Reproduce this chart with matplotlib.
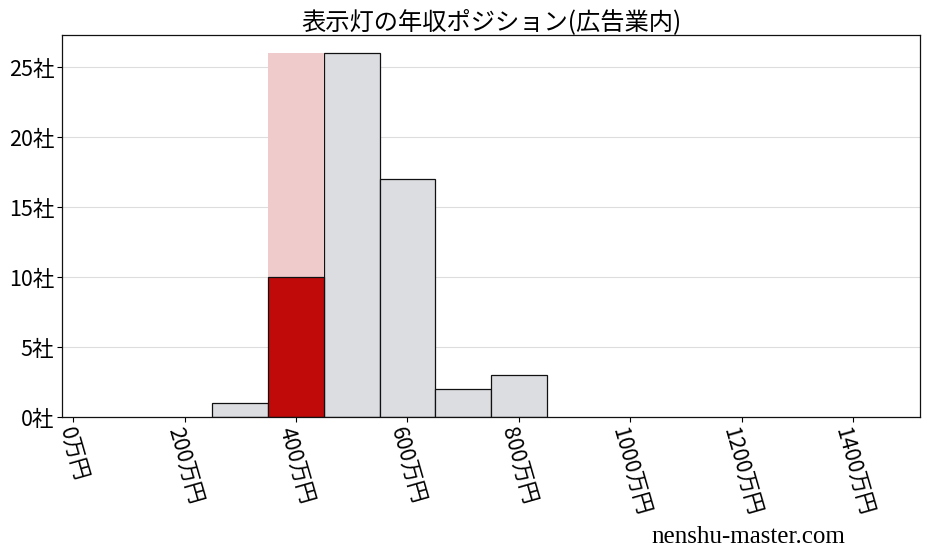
import matplotlib
matplotlib.use("Agg")
import matplotlib.pyplot as plt

plt.rcParams['font.family'] = ['Noto Sans CJK JP', 'DejaVu Sans']

bin_left = [250, 350, 450, 550, 650, 750]
counts = [1, 26, 26, 17, 2, 3]
highlight_left = 350
highlight_count = 10
highlight_total = 26
xticks = [0, 200, 400, 600, 800, 1000, 1200, 1400]
xticklabels = [f"{v}万円" for v in xticks]
yticks = [0, 5, 10, 15, 20, 25]
yticklabels = [f"{v}社" for v in yticks]
title = "表示灯の年収ポジション(広告業内)"

fig = plt.figure(figsize=(9.28, 5.57), dpi=100)
ax = fig.add_axes([62/928, 1-417/557, (920-62)/928, (417-35)/557])

ax.set_axisbelow(True)
ax.grid(axis='y', color='#dddddd', linewidth=0.8)

for l, c in zip(bin_left, counts):
    if l == highlight_left:
        continue
    ax.bar(l, c, width=100, align='edge', color='#dcdde0', edgecolor='#111111', linewidth=0.9)

ax.bar(highlight_left, highlight_total, width=100, align='edge', color='#f0cbcc', edgecolor='none')
ax.bar(highlight_left, highlight_count, width=100, align='edge', color='#c00a0a', edgecolor='#111111', linewidth=0.9)

ax.set_xlim(-20, 1520)
ax.set_ylim(0, 27.3)
ax.set_xticks(xticks)
ax.set_xticklabels(xticklabels, rotation=-74, ha='center', va='top', fontsize=15.5)
ax.set_yticks(yticks)
ax.set_yticklabels(yticklabels, fontsize=15.5)
ax.tick_params(axis='x', pad=2)
ax.tick_params(axis='y', pad=2)
for s in ax.spines.values():
    s.set_color('#111111')
    s.set_linewidth(0.9)

ax.set_title(title, fontsize=17.5, pad=4)
fig.text(748/928, 1-537/557, "nenshu-master.com", fontsize=18, ha='center', va='center',
         family=['Liberation Serif', 'DejaVu Serif'])

fig.savefig("out.png", dpi=100)
